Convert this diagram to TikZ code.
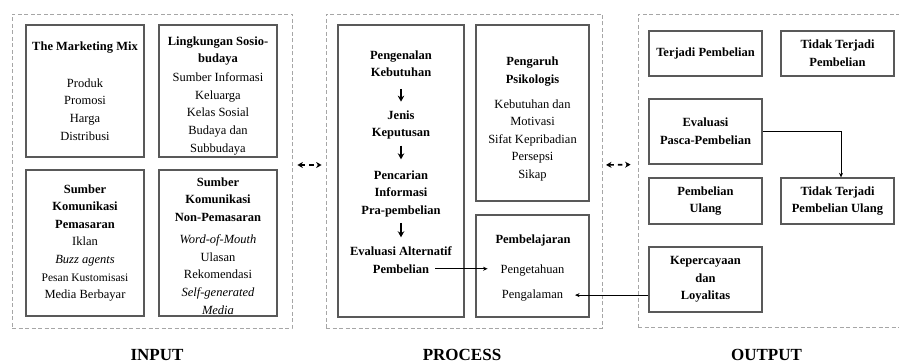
\documentclass[tikz,border=0pt]{standalone}
\usepackage{fontspec}
\setmainfont{Liberation Serif}
\usetikzlibrary{positioning, arrows.meta, calc}

\begin{document}
\begin{tikzpicture}[x=1pt, y=-1pt]
	% Define styles
	\tikzset{
		panel/.style={rectangle, draw=black!35, line width=0.8pt, dash pattern=on 4pt off 2.5pt},
		block/.style={rectangle, draw=black!65, line width=1.3pt, align=center, inner sep=0pt, font=\fontsize{12.5}{17.6}\selectfont},
		txt/.style={align=center, inner sep=0pt, outer sep=0pt, font=\fontsize{12.5}{17.6}\selectfont},
		ttl/.style={txt, font=\fontsize{12.5}{17.6}\selectfont\bfseries},
		head/.style={font=\fontsize{17}{20}\selectfont\bfseries},
		line/.style={draw, line width=0.7pt, -{Stealth[length=4.5pt, width=4pt]}},
		down/.style={draw, line width=1.3pt, -{Stealth[length=6pt, width=6.5pt]}, shorten <=6pt, shorten >=9pt},
		twoway/.style={draw, line width=1.6pt, {Stealth[length=5.5pt, width=6pt]}-{Stealth[length=5.5pt, width=6pt]}, dash pattern=on 4.5pt off 4pt, shorten <=5pt, shorten >=4pt}
	}
	\useasboundingbox (0,0) rectangle (899,363);
	\clip (0,0) rectangle (899,363);
	
	% Panels
	\node[panel, minimum width=280pt, minimum height=314pt] (input) at (152,171) {};
	\node[panel, minimum width=276pt, minimum height=314pt] (process) at (464,171) {};
	\node[panel, minimum width=267pt, minimum height=313pt] (output) at (771.5,170.5) {};
	
	\node[head] (hin) at (157,355) {INPUT};
	\node[head] (hpr) at (462,355) {PROCESS};
	\node[head] (hout) at (766.5,355) {OUTPUT};
	
	% Input
	\node[block, minimum width=118pt, minimum height=132pt] (in1) at (85,91) {\textbf{The Marketing Mix}\\[19.4pt]Produk\\Promosi\\Harga\\Distribusi};
	\node[block, minimum width=118pt, minimum height=132pt, right=13.7pt of in1] (in2) {\rule{0pt}{18pt}\textbf{Lingkungan Sosio-}\\\textbf{budaya}\\[1.5pt]Sumber Informasi\\Keluarga\\Kelas Sosial\\Budaya dan\\Subbudaya};
	\node[block, minimum width=118pt, minimum height=146pt, below=11.7pt of in1] (in3) {\textbf{Sumber}\\\textbf{Komunikasi}\\\textbf{Pemasaran}\\Iklan\\\textit{Buzz agents}\\{\fontsize{11.5}{17.6}\selectfont Pesan Kustomisasi}\\Media Berbayar};
	\node[block, minimum width=118pt, minimum height=146pt, right=13.7pt of in3] (in4) {\rule{0pt}{14.5pt}\textbf{Sumber}\\\textbf{Komunikasi}\\\textbf{Non-Pemasaran}\\[4.5pt]\textit{Word-of-Mouth}\\Ulasan\\Rekomendasi\\\textit{Self-generated}\\\textit{Media}};
	
	% Process
	\node[block, minimum width=126pt, minimum height=292pt] (pr1) at (401,171) {};
	\node[block, minimum width=113pt, minimum height=176pt, below right=0pt and 10.7pt of pr1.north east] (pr2) {\rule{0pt}{20.5pt}\textbf{Pengaruh}\\\textbf{Psikologis}\\[7.4pt]Kebutuhan dan\\Motivasi\\Sifat Kepribadian\\Persepsi\\Sikap};
	\node[block, minimum width=113pt, minimum height=102pt, below=12.7pt of pr2] (pr3) {};
	
	\node[ttl] (s1) at (401,63.75) {Pengenalan\\Kebutuhan};
	\node[ttl] (s2) at (401,125.1) {Jenis\\Keputusan};
	\node[ttl] (s3) at (401,193.6) {Pencarian\\Informasi\\Pra-pembelian};
	\node[ttl] (s4) at (401,250.75) {Evaluasi Alternatif};
	\node[ttl] (s5) at (401,268.75) {Pembelian};
	
	\node[ttl] (t3) at (533,240.1) {Pembelajaran};
	\node[txt] (k1) at (532.5,270.1) {Pengetahuan};
	\node[txt] (k2) at (532.5,295.1) {Pengalaman};
	
	% Output
	\node[block, minimum width=113pt, minimum height=45pt] (out1) at (705.5,53.5) {\textbf{Terjadi Pembelian}};
	\node[block, minimum width=113pt, minimum height=45pt, right=17.7pt of out1] (out2) {\textbf{Tidak Terjadi}\\\textbf{Pembelian}};
	\node[block, minimum width=113pt, minimum height=65pt, below=21.7pt of out1] (out3) {\textbf{Evaluasi}\\\textbf{Pasca-Pembelian}};
	\node[block, minimum width=113pt, minimum height=46pt, below=12.7pt of out3] (out4) {\textbf{Pembelian}\\\textbf{Ulang}};
	\node[block, minimum width=113pt, minimum height=46pt, right=17.7pt of out4] (out5) {\textbf{Tidak Terjadi}\\\textbf{Pembelian Ulang}};
	\node[block, minimum width=113pt, minimum height=65pt, below=21.7pt of out4] (out6) {\textbf{Kepercayaan}\\\textbf{dan}\\\textbf{Loyalitas}};
	
	% Arrows
	\path [down, shorten <=12pt] (s1) -- (s2);
	\path [down, shorten >=11pt] (s2) -- (s3);
	\path [down] (s3) -- (s4);
	
	\path [line, shorten <=6pt, shorten >=13pt] (s5.east) -- (s5.east -| k1.west);
	\path [line, shorten >=12pt] (out6.west |- k2.east) -- (k2.east);
	\path [line] (out3.east) -| ([xshift=3.5pt]out5.north);
	
	\path [twoway] ([yshift=6pt]input.east) -- ([yshift=6pt]process.west);
	\path [twoway, shorten <=3.6pt, shorten >=7pt] ([yshift=6pt]process.east) -- ([yshift=6pt]output.west);
\end{tikzpicture}
\end{document}
